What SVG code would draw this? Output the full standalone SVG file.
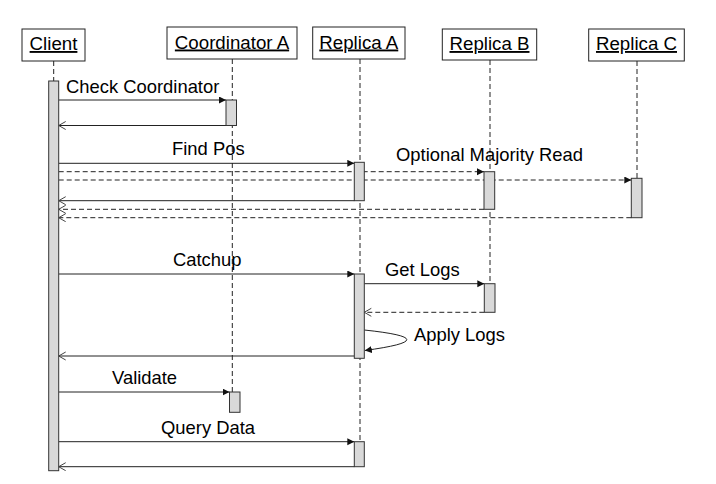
<svg xmlns="http://www.w3.org/2000/svg" width="716" height="484" viewBox="0 0 716 484">
<defs>
<style>
.hdr{fill:#fff;stroke:#222;stroke-width:1}
.hl{font-family:"Liberation Sans",Arial,sans-serif;font-size:18.7px;fill:#000;text-anchor:middle;text-decoration:underline}
.life{stroke:#222;stroke-width:1;stroke-dasharray:5 3;fill:none}
.act{fill:#d9d9d9;stroke:#333;stroke-width:1}
.msg{stroke:#222;stroke-width:1;fill:none}
.dash{stroke-dasharray:5 3}
.lbl{font-family:"Liberation Sans",Arial,sans-serif;font-size:18.4px;fill:#000}
</style>
<marker id="filled" markerUnits="userSpaceOnUse" markerWidth="8" markerHeight="8" refX="7" refY="3.5" orient="auto">
<path d="M0,0 L7,3.5 L0,7 z" fill="#111"/>
</marker>
<marker id="open" markerUnits="userSpaceOnUse" markerWidth="9" markerHeight="10" refX="7.5" refY="4.5" orient="auto">
<path d="M0.5,0.5 L7.5,4.5 L0.5,8.5" fill="none" stroke="#444" stroke-width="1"/>
</marker>
</defs>
<rect width="716" height="484" fill="#fff"/>

<g id="client">
<rect class="hdr" x="22" y="29" width="63" height="32"/>
<text class="hl" x="53.5" y="50">Client</text>
<line class="life" x1="53.7" y1="61" x2="53.7" y2="81"/>
</g>
<g id="coordinator-a">
<rect class="hdr" x="167" y="27" width="130" height="32"/>
<text class="hl" x="232" y="48.5">Coordinator A</text>
<line class="life" x1="232.3" y1="59" x2="232.3" y2="392"/>
</g>
<g id="replica-a">
<rect class="hdr" x="312.7" y="27" width="92.3" height="32"/>
<text class="hl" x="358.8" y="48.5">Replica A</text>
<line class="life" x1="360" y1="59" x2="360" y2="441.7"/>
</g>
<g id="replica-b">
<rect class="hdr" x="442.3" y="29" width="94.4" height="31"/>
<text class="hl" x="489.5" y="50">Replica B</text>
<line class="life" x1="490" y1="60" x2="490" y2="283.7"/>
</g>
<g id="replica-c">
<rect class="hdr" x="588.7" y="29" width="95.6" height="32"/>
<text class="hl" x="636.5" y="50">Replica C</text>
<line class="life" x1="637" y1="61" x2="637" y2="178.3"/>
</g>

<g id="connectors">
<line class="msg" x1="58.7" y1="100" x2="226" y2="100" marker-end="url(#filled)"/>
<line class="msg" x1="226" y1="125.5" x2="58.7" y2="125.5" marker-end="url(#open)"/>
<line class="msg" x1="58.7" y1="163.3" x2="354.3" y2="163.3" marker-end="url(#filled)"/>
<line class="msg dash" x1="58.7" y1="171.7" x2="484" y2="171.7" marker-end="url(#filled)"/>
<line class="msg dash" x1="58.7" y1="180" x2="631.3" y2="180" marker-end="url(#filled)"/>
<line class="msg" x1="354.3" y1="200.7" x2="58.7" y2="200.7" marker-end="url(#open)"/>
<line class="msg dash" x1="484" y1="209.3" x2="58.7" y2="209.3" marker-end="url(#open)"/>
<line class="msg dash" x1="631.3" y1="217.7" x2="58.7" y2="217.7" marker-end="url(#open)"/>
<line class="msg" x1="58.7" y1="274" x2="354.3" y2="274" marker-end="url(#filled)"/>
<line class="msg" x1="364.3" y1="283.7" x2="484.3" y2="283.7" marker-end="url(#filled)"/>
<line class="msg dash" x1="484.3" y1="312.3" x2="364.3" y2="312.3" marker-end="url(#open)"/>
<path class="msg" d="M364.3,330 Q449,339 364.8,350.5" marker-end="url(#filled)"/>
<line class="msg" x1="354.3" y1="356" x2="58.7" y2="356" marker-end="url(#open)"/>
<line class="msg" x1="58.7" y1="392" x2="229.5" y2="392" marker-end="url(#filled)"/>
<line class="msg" x1="58.7" y1="441.7" x2="354.3" y2="441.7" marker-end="url(#filled)"/>
<line class="msg" x1="354.3" y1="466.7" x2="58.7" y2="466.7" marker-end="url(#open)"/>
<text class="lbl" x="66" y="93">Check Coordinator</text>
<text class="lbl" x="172" y="155">Find Pos</text>
<text class="lbl" x="396" y="160.5">Optional Majority Read</text>
<text class="lbl" x="173" y="266">Catchup</text>
<text class="lbl" x="385" y="276">Get Logs</text>
<text class="lbl" x="414" y="341">Apply Logs</text>
<text class="lbl" x="112" y="384">Validate</text>
<text class="lbl" x="161" y="434">Query Data</text>
</g>

<g id="activations">
<rect id="act-client" class="act" x="48.7" y="81" width="10" height="389.7"/>
<rect id="act-coord-1" class="act" x="226" y="100" width="10.5" height="25.5"/>
<rect id="act-coord-2" class="act" x="229.5" y="392" width="10.5" height="20.3"/>
<rect id="act-ra-1" class="act" x="354.3" y="162.3" width="10" height="38.4"/>
<rect id="act-rb-1" class="act" x="484" y="171.7" width="10.7" height="37.6"/>
<rect id="act-rc-1" class="act" x="631.3" y="178.3" width="10.7" height="39.4"/>
<rect id="act-ra-2" class="act" x="354.3" y="274" width="10" height="84.3"/>
<rect id="act-rb-2" class="act" x="484.3" y="283.7" width="10.7" height="28.6"/>
<rect id="act-ra-3" class="act" x="354.3" y="441.7" width="10" height="25"/>
</g>
</svg>
